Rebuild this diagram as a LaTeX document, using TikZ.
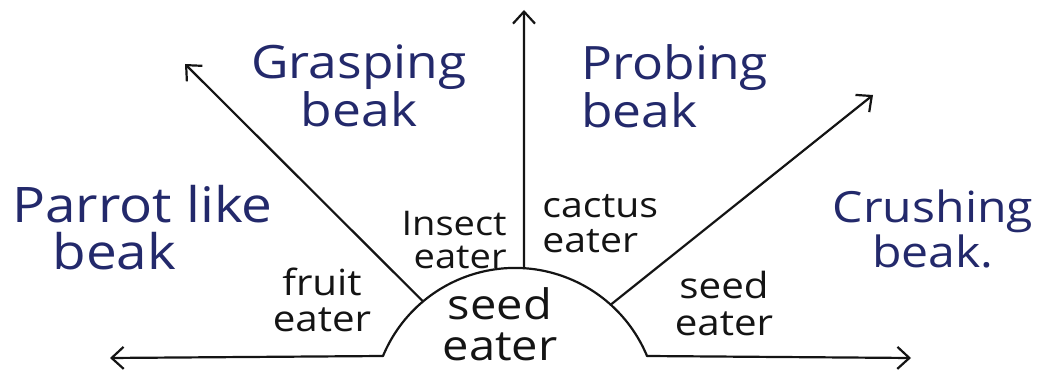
\documentclass[tikz,border=0pt]{standalone}
\usepackage{fontspec}
\setmainfont[FakeStretch=1.12]{Open Sans}
\usetikzlibrary{arrows.meta,calc}
\definecolor{inkblue}{HTML}{23296B}
\definecolor{inkblack}{HTML}{141414}
\begin{document}
\begin{tikzpicture}[x=0.5pt,y=-0.5pt,
  beakname/.style={text=inkblue, inner sep=0pt},
  diet/.style={text=inkblack, inner sep=0pt},
  inkline/.style={draw=inkblack, line width=1.1pt, line cap=round},
  arr/.style={inkline, -{Straight Barb[length=6pt,width=11pt,line width=1.1pt]}}]
\useasboundingbox (0,0) rectangle (1039,373);
\fill[white] (0,0) rectangle (1039,373);
% geometry
\coordinate (C) at (515,411);
\coordinate (aL) at (383,356);
\coordinate (aR) at (647,356);
\coordinate (tipL) at (110,358);
\coordinate (tipR) at (911,358);
\coordinate (aTop) at ($(C)+(-86.4:143)$);
\coordinate (tipU) at (524,10);
\coordinate (dL) at ($(C)+(-130:143)$);
\coordinate (tipUL) at (185,64);
\coordinate (dR) at ($(C)+(-48:143)$);
\coordinate (tipUR) at (873,95);
% semicircle and arrows
\draw[inkline] (aL) arc[start angle=-157.4,end angle=-22.6,radius=143];
\draw[arr] (aL) -- (tipL);
\draw[arr] (aR) -- (tipR);
\draw[arr] (aTop) -- (tipU);
\draw[arr] (dL) -- (tipUL);
\draw[arr] (dR) -- (tipUR);
% beak names
\node[beakname, align=center, font=\fontsize{23}{22.5}\selectfont] (grasp) at (359,86) {Grasping\\beak};
\node[beakname, align=left, anchor=west, font=\fontsize{23}{21}\selectfont] (probe) at (581,86) {Probing\\beak};
\node[beakname, align=left, anchor=west, font=\fontsize{24.5}{23.5}\selectfont] (parrot) at (12,228) {Parrot like\\\hspace*{20pt}beak};
\node[beakname, align=center, font=\fontsize{21.5}{20}\selectfont] (crush) at (933,229) {Crushing\\beak.};
% diets
\node[diet, align=right, anchor=east, font=\fontsize{17}{16.5}\selectfont] (insect) at (507,240) {Insect\\eater};
\node[diet, align=left, anchor=west, font=\fontsize{17.5}{17.5}\selectfont] (cactus) at (542,224) {cactus\\eater};
\node[diet, align=center, font=\fontsize{18}{18}\selectfont] (fruit) at (322,300) {fruit\\eater};
\node[diet, align=center, font=\fontsize{18}{18.5}\selectfont] (seedR) at (724,304) {seed\\eater};
\node[diet, align=center, font=\fontsize{21}{20.5}\selectfont] (seedM) at (500,324) {seed\\eater};
\end{tikzpicture}
\end{document}
